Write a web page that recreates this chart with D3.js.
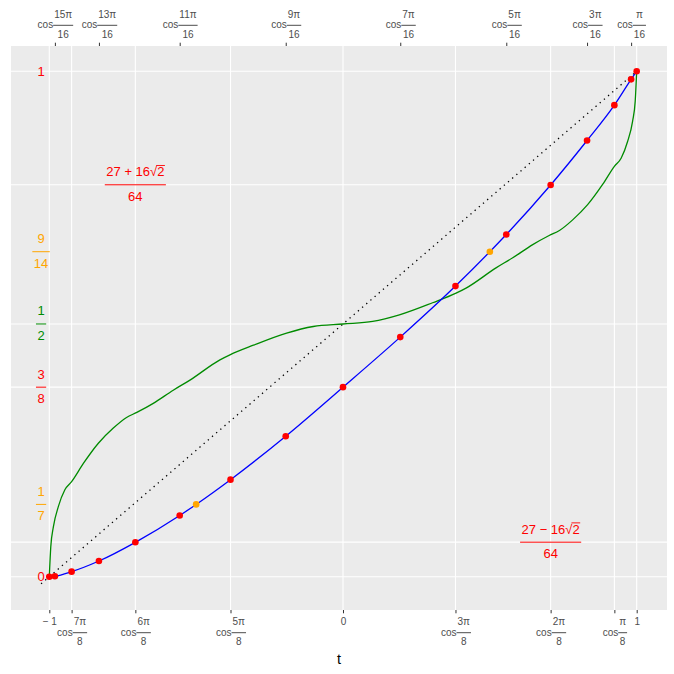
<!DOCTYPE html>
<html>
<head>
<meta charset="utf-8">
<script src="https://cdn.jsdelivr.net/npm/d3@7"></script>
<style>
  body { margin: 0; background: #fff; }
  text { font-family: "Liberation Sans", Arial, sans-serif; }
</style>
</head>
<body>
<div id="chart"></div>
<script>
// chart values
var nodeT = [-1, -0.981, -0.924, -0.831, -0.707, -0.556, -0.383, -0.195, 0, 0.195, 0.383, 0.556, 0.707, 0.831, 0.924, 0.981, 1];
var nodeY = [0, 0.001, 0.010, 0.031, 0.068, 0.121, 0.192, 0.278, 0.375, 0.474, 0.575, 0.677, 0.775, 0.863, 0.933, 0.984, 1];
var midT = [-0.5, 0.5];
var midY = [0.143, 0.643];

var greenT = [-1, -0.995, -0.986, -0.969, -0.947, -0.924, -0.884, -0.833, -0.782, -0.737, -0.702, -0.646, -0.578, -0.521, -0.419, -0.385, -0.305, -0.192, -0.101, 0,
              0.101, 0.192, 0.305, 0.385, 0.419, 0.521, 0.578, 0.646, 0.702, 0.737, 0.782, 0.833, 0.884, 0.924, 0.947, 0.969, 0.986, 0.995, 1];
var greenY = [0, 0.059, 0.099, 0.139, 0.172, 0.188, 0.224, 0.264, 0.294, 0.315, 0.325, 0.343, 0.369, 0.389, 0.429, 0.439, 0.458, 0.482, 0.495, 0.5,
              0.505, 0.518, 0.542, 0.561, 0.571, 0.611, 0.631, 0.657, 0.675, 0.685, 0.706, 0.736, 0.776, 0.812, 0.828, 0.861, 0.901, 0.941, 1];

var diagT = [-1.028, 1];
var diagY = [-0.014, 1];

var gridY = [0, 0.0683, 0.375, 0.5, 0.7754, 1];

var bottomTicks = [-1, -0.924, -0.707, -0.383, 0, 0.383, 0.707, 0.924, 1];
var bottomLabels = ["\u2212 1", "cos|7\u03c0|8", "cos|6\u03c0|8", "cos|5\u03c0|8", "0", "cos|3\u03c0|8", "cos|2\u03c0|8", "cos|\u03c0|8", "1"];
var topTicks = [-0.981, -0.831, -0.556, -0.195, 0.195, 0.556, 0.831, 0.981];
var topLabels = ["cos|15\u03c0|16", "cos|13\u03c0|16", "cos|11\u03c0|16", "cos|9\u03c0|16", "cos|7\u03c0|16", "cos|5\u03c0|16", "cos|3\u03c0|16", "cos|\u03c0|16"];

var noteNum = ["1", "27 + 16\u221a2", "9", "1", "3", "1", "27 \u2212 16\u221a2", "0"];
var noteDen = ["", "64", "14", "2", "8", "7", "64", ""];
var noteT = [-1.028, -0.707, -1.028, -1.028, -1.028, -1.028, 0.707, -1.028];
var noteY = [1, 0.7754, 0.643, 0.5, 0.375, 0.143, 0.0683, 0];
var noteColor = ["red", "red", "orange", "#008B00", "red", "orange", "red", "red"];

// set up the chart
var svgWidth = 674;
var svgHeight = 674;
var margin = { top: 46, right: 7, bottom: 64, left: 11 };
var width = svgWidth - margin.left - margin.right;
var height = svgHeight - margin.top - margin.bottom;

var svg = d3.select("#chart")
  .append("svg")
  .attr("width", svgWidth)
  .attr("height", svgHeight);

var chartGroup = svg.append("g")
  .attr("transform", `translate(${margin.left}, ${margin.top})`);

var xScale = d3.scaleLinear()
  .domain([-1.1304, 1.1032])
  .range([0, width]);

var yScale = d3.scaleLinear()
  .domain([-0.0659, 1.050])
  .range([height, 0]);

// panel + grid
chartGroup.append("rect")
  .attr("width", width)
  .attr("height", height)
  .attr("fill", "#EBEBEB");

chartGroup.selectAll(".gy")
  .data(gridY)
  .enter()
  .append("line")
  .attr("x1", 0).attr("x2", width)
  .attr("y1", d => yScale(d)).attr("y2", d => yScale(d))
  .attr("stroke", "#fff").attr("stroke-width", 1.1);

chartGroup.selectAll(".gx")
  .data(bottomTicks)
  .enter()
  .append("line")
  .attr("y1", 0).attr("y2", height)
  .attr("x1", d => xScale(d)).attr("x2", d => xScale(d))
  .attr("stroke", "#fff").attr("stroke-width", 1.1);

// axes (tick marks only, labels drawn by hand as fractions)
var bottomAxis = d3.axisBottom(xScale).tickValues(bottomTicks).tickSize(3.3).tickFormat("");
var topAxis = d3.axisTop(xScale).tickValues(topTicks).tickSize(3.3).tickFormat("");

var gBottom = chartGroup.append("g")
  .attr("transform", `translate(0, ${height})`)
  .call(bottomAxis);
var gTop = chartGroup.append("g").call(topAxis);

[gBottom, gTop].forEach(function(g) {
  g.select(".domain").remove();
  g.selectAll(".tick line").attr("stroke", "#333").attr("stroke-width", 1);
});

function tickLabel(sel, label, dir) {
  var parts = label.split("|");
  sel.attr("fill", "#4D4D4D").attr("font-size", 10);
  if (parts.length === 1) {
    sel.append("text").attr("y", 15).attr("text-anchor", "middle").text(parts[0]);
    return;
  }
  var cos = sel.append("text").attr("text-anchor", "start").text(parts[0]);
  var num = sel.append("text").attr("text-anchor", "middle").text(parts[1]);
  var den = sel.append("text").attr("text-anchor", "middle").text(parts[2]);
  var cw = cos.node().getComputedTextLength();
  var fw = Math.max(num.node().getComputedTextLength(), den.node().getComputedTextLength()) + 2;
  var x0 = -(cw + fw) / 2;
  var barY = dir > 0 ? 22.7 : -20.7;
  cos.attr("x", x0).attr("y", barY + 2.8);
  num.attr("x", x0 + cw + fw / 2).attr("y", barY - 7.8);
  den.attr("x", x0 + cw + fw / 2).attr("y", barY + 12.5);
  sel.append("line")
    .attr("x1", x0 + cw).attr("x2", x0 + cw + fw)
    .attr("y1", barY).attr("y2", barY)
    .attr("stroke", "#4D4D4D").attr("stroke-width", 1);
}

gBottom.selectAll(".tick").each(function(d, i) {
  tickLabel(d3.select(this), bottomLabels[i], 1);
});
gTop.selectAll(".tick").each(function(d, i) {
  tickLabel(d3.select(this), topLabels[i], -1);
});

// axis title
chartGroup.append("text")
  .attr("x", width / 2)
  .attr("y", height + 54)
  .attr("text-anchor", "middle")
  .attr("font-size", 14.5)
  .attr("fill", "#000")
  .text("t");

// dotted diagonal
var diagData = diagT.map((t, i) => ({ t: t, y: diagY[i] }));
var line = d3.line().x(d => xScale(d.t)).y(d => yScale(d.y));

chartGroup.append("path")
  .datum(diagData)
  .attr("d", line)
  .attr("fill", "none")
  .attr("stroke", "#000")
  .attr("stroke-width", 1.3)
  .attr("stroke-dasharray", "1.3,4.2");

// green curve
var greenData = greenT.map((t, i) => ({ t: t, y: greenY[i] }));
chartGroup.append("path")
  .datum(greenData)
  .attr("d", line.curve(d3.curveMonotoneX))
  .attr("fill", "none")
  .attr("stroke", "#008B00")
  .attr("stroke-width", 1.3);

// blue curve through the nodes
var nodeData = nodeT.map((t, i) => ({ t: t, y: nodeY[i] }));
var midData = midT.map((t, i) => ({ t: t, y: midY[i] }));
var blueData = nodeData.concat(midData).sort((a, b) => a.t - b.t);

chartGroup.append("path")
  .datum(blueData)
  .attr("d", line.curve(d3.curveMonotoneX))
  .attr("fill", "none")
  .attr("stroke", "#0000FF")
  .attr("stroke-width", 1.3);

// notes on the panel
var noteGroup = chartGroup.append("g").attr("font-size", 13);
noteNum.forEach(function(n, i) {
  var g = noteGroup.append("g")
    .attr("transform", `translate(${xScale(noteT[i])}, ${yScale(noteY[i])})`)
    .attr("fill", noteColor[i]);
  if (noteDen[i] === "") {
    g.append("text").attr("text-anchor", "middle").attr("y", 4.7).text(n);
    return;
  }
  var num = g.append("text").attr("text-anchor", "middle").attr("y", -8.5).text(n);
  var den = g.append("text").attr("text-anchor", "middle").attr("y", 15.8).text(noteDen[i]);
  var w = Math.max(num.node().getComputedTextLength(), den.node().getComputedTextLength()) + 3;
  g.append("line")
    .attr("x1", -w / 2).attr("x2", w / 2)
    .attr("stroke", noteColor[i]).attr("stroke-width", 1);
  var k = n.indexOf("\u221a");
  if (k >= 0) {
    var total = num.node().getComputedTextLength();
    var xs = -total / 2 + num.node().getSubStringLength(0, k + 1) - 1;
    g.append("line")
      .attr("x1", xs).attr("x2", total / 2 + 0.5)
      .attr("y1", -19.3).attr("y2", -19.3)
      .attr("stroke", noteColor[i]).attr("stroke-width", 0.9);
  }
});

// points
chartGroup.selectAll(".node")
  .data(nodeData)
  .enter()
  .append("circle")
  .attr("cx", d => xScale(d.t))
  .attr("cy", d => yScale(d.y))
  .attr("r", 3.3)
  .attr("fill", "red");

chartGroup.selectAll(".mid")
  .data(midData)
  .enter()
  .append("circle")
  .attr("cx", d => xScale(d.t))
  .attr("cy", d => yScale(d.y))
  .attr("r", 3.3)
  .attr("fill", "orange");
</script>
</body>
</html>
